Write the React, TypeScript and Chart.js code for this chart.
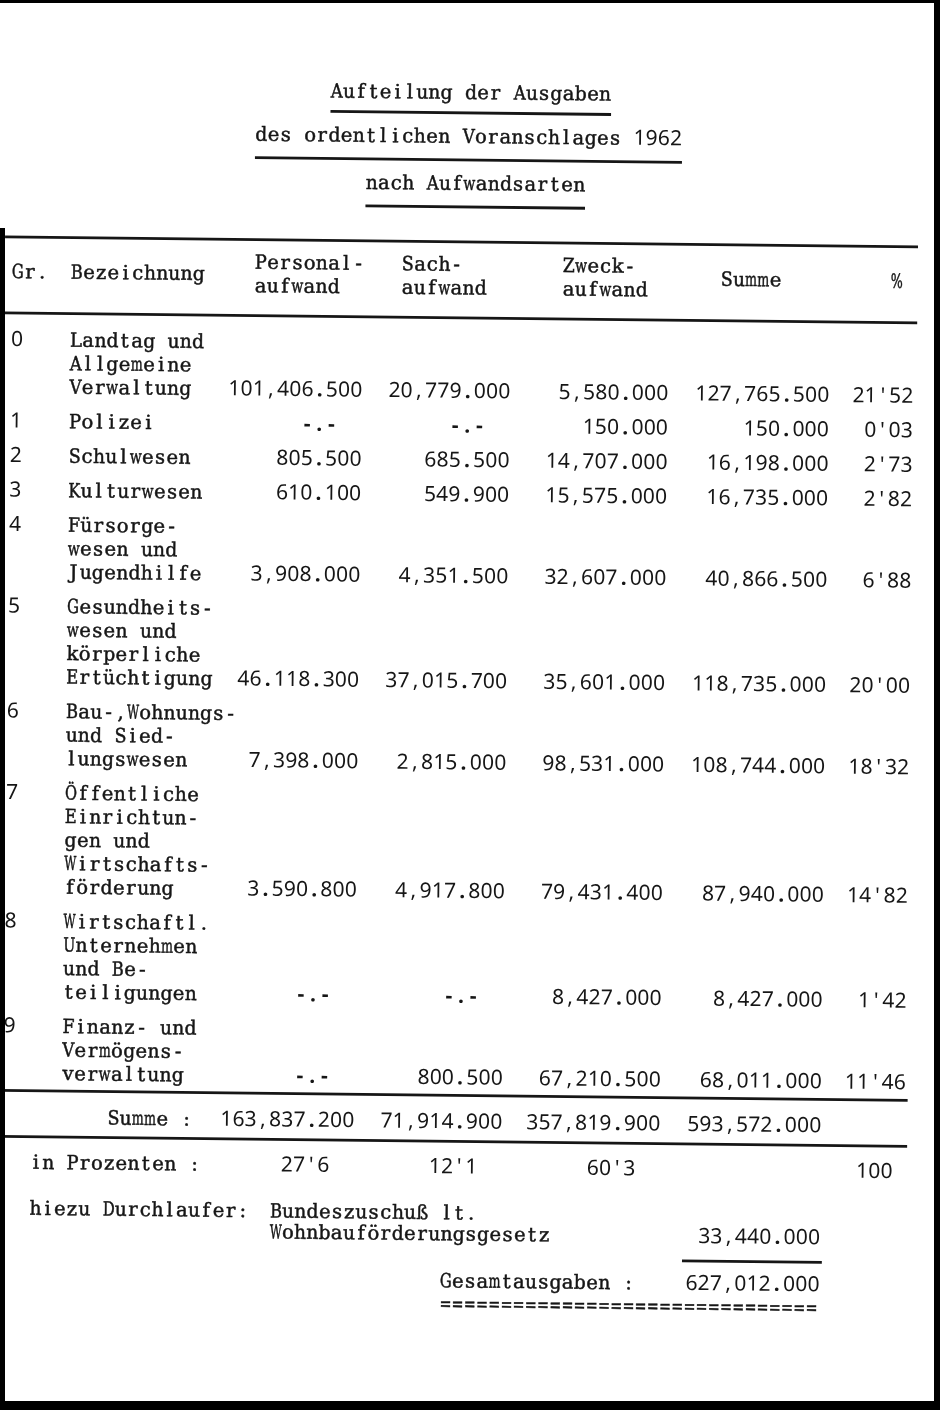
import React, { useEffect, useRef } from "react";
import { Chart, registerables } from "chart.js";

Chart.register(...registerables);

// ---------------- data ----------------
const TITLE_LINES = [
  "Aufteilung der Ausgaben",
  "des ordentlichen Voranschlages 1962",
  "nach Aufwandsarten",
];
const HEADER_GR = "Gr.";
const HEADER_BEZ = "Bezeichnung";
const HEADER_COLS = [
  ["Personal-", "aufwand"],
  ["Sach-", "aufwand"],
  ["Zweck-", "aufwand"],
  ["Summe"],
  ["%"],
];
const GROUPS = ["0", "1", "2", "3", "4", "5", "6", "7", "8", "9"];
const LABELS = [
  ["Landtag und", "Allgemeine", "Verwaltung"],
  ["Polizei"],
  ["Schulwesen"],
  ["Kulturwesen"],
  ["Fürsorge-", "wesen und", "Jugendhilfe"],
  ["Gesundheits-", "wesen und", "körperliche", "Ertüchtigung"],
  ["Bau-,Wohnungs-", "und Sied-", "lungswesen"],
  ["Öffentliche", "Einrichtun-", "gen und", "Wirtschafts-", "förderung"],
  ["Wirtschaftl.", "Unternehmen", "und Be-", "teiligungen"],
  ["Finanz- und", "Vermögens-", "verwaltung"],
];
const PERSONAL = [101406500, null, 805500, 610100, 3908000, 46118300, 7398000, 3590800, null, null];
const SACH = [20779000, null, 685500, 549900, 4351500, 37015700, 2815000, 4917800, null, 800500];
const ZWECK = [5580000, 150000, 14707000, 15575000, 32607000, 35601000, 98531000, 79431400, 8427000, 67210500];
const SUMME = [127765500, 150000, 16198000, 16735000, 40866500, 118735000, 108744000, 87940000, 8427000, 68011000];
const PERCENT = [21.52, 0.03, 2.73, 2.82, 6.88, 20.0, 18.32, 14.82, 1.42, 11.46];
// cells typed with "." instead of "," as the millions separator ("row:col")
const MILLION_DOT_CELLS = ["5:0", "7:0"];
const TOTAL_LABEL = "Summe :";
const TOTALS = [163837200, 71914900, 357819900, 593572000];
const PCT_LABEL = "in Prozenten :";
const TOTAL_PCT = [27.6, 12.1, 60.3, 100];
const EXTRA_LABEL = "hiezu Durchlaufer:";
const EXTRA_TEXT = ["Bundeszuschuß lt.", "Wohnbauförderungsgesetz"];
const EXTRA_VALUE = 33440000;
const GRAND_LABEL = "Gesamtausgaben :";
const GRAND_VALUE = 627012000;

// ---------------- layout (paper coordinates) ----------------
const W = 940;
const H = 1410;
const PITCH = 12.2;
const TILT = 0.011;
const PIVOT = [470, 700];
const LETTER_FONT = '19.5px "DejaVu Serif"';
const DIGIT_FONT = '21px "Noto Sans"';
const DOT_FONT = 'bold 21px "Noto Sans"';
const INK = "#161616";

const fmtAmount = (v: number | null, dotMillions = false) => {
  if (v == null) return "-.-";
  const s = String(v);
  const parts: string[] = [];
  for (let i = s.length; i > 0; i -= 3) parts.unshift(s.slice(Math.max(0, i - 3), i));
  let out = parts[parts.length - 1];
  for (let k = parts.length - 2; k >= 0; k--) {
    const fromRight = parts.length - 1 - k; // 1 => thousands, 2 => millions
    const sep = fromRight === 1 ? "." : dotMillions ? "." : ",";
    out = parts[k] + sep + out;
  }
  return out;
};
const fmtPct = (v: number, d: number) => (v === 100 ? "100" : v.toFixed(d).replace(".", "'"));

export default function App() {
  const ref = useRef<HTMLCanvasElement>(null);

  useEffect(() => {
    const canvas = ref.current;
    if (!canvas) return;

    const X_GR = 7;
    const X_LABEL = 66;
    const COL_RIGHT = [359, 507, 665, 826, 910];
    const HEAD_LEFT = [250, 397, 558, 716, 886];
    const Y_TITLE = [93, 137, 184];
    const Y_TITLE_RULE = [113, 160, 207];
    const TITLE_LEFT = [324, 249, 360];
    const Y_RULE1 = 242;
    const Y_HEAD = [265, 288.5];
    const Y_HEAD_MID = 277;
    const Y_RULE2 = 318;
    const Y_ROW0 = 345;
    const LINE = 23.5;
    const GAP = 34.5;

    // compute row positions from label line counts
    const rowLastY: number[] = [];
    let y = Y_ROW0;
    LABELS.forEach((lines, i) => {
      const last = y + (lines.length - 1) * LINE;
      rowLastY[i] = last;
      y = last + GAP;
    });
    const lastY = rowLastY[rowLastY.length - 1];
    const Y_RULE3 = lastY + 17;
    const Y_SUM = Y_RULE3 + 27;
    const Y_RULE4 = Y_RULE3 + 46;
    const Y_PCT = Y_RULE4 + 26;
    const Y_EXTRA = Y_PCT + 46;
    const Y_EXTRA2 = Y_EXTRA + 21;
    const Y_SHORT = Y_EXTRA2 + 24;
    const Y_GRAND = Y_EXTRA2 + 47;
    const Y_EQ = Y_GRAND + 23;

    const series = [PERSONAL, SACH, ZWECK, SUMME];
    const anchors: { x: number; y: number }[] = [];
    series.forEach((s, c) => s.forEach((_, r) => anchors.push({ x: COL_RIGHT[c], y: rowLastY[r] })));

    const plugin = {
      id: "typedTable",
      beforeDraw(chart: any) {
        const ctx = chart.ctx;
        ctx.save();
        ctx.fillStyle = "#fff";
        ctx.fillRect(0, 0, chart.width, chart.height);
        ctx.restore();
      },
      afterDraw(chart: any) {
        const ctx: CanvasRenderingContext2D = chart.ctx;
        const xs = chart.scales.x;
        const ys = chart.scales.y;
        const X = (v: number) => xs.getPixelForValue(v);
        const Y = (v: number) => ys.getPixelForValue(v);
        const cell = X(PITCH) - X(0);

        const typeText = (text: string, left: number, yMid: number, numeric: boolean) => {
          ctx.textAlign = "center";
          ctx.textBaseline = "middle";
          const chars = Array.from(text);
          chars.forEach((ch, i) => {
            if (ch === " ") return;
            const isDigit = /[0-9]/.test(ch);
            let font = LETTER_FONT;
            if (numeric || isDigit) font = ch === "." || ch === "-" ? DOT_FONT : DIGIT_FONT;
            ctx.font = font;
            const cx = X(left) + (i + 0.5) * cell;
            const cy = Y(yMid);
            if (font === LETTER_FONT) {
              ctx.lineWidth = 0.5;
              ctx.fillText(ch, cx, cy + 1, cell * 0.98);
              ctx.strokeText(ch, cx, cy + 1, cell * 0.98);
            } else {
              ctx.fillText(ch, cx, cy);
            }
          });
        };
        const typeRight = (text: string, right: number, yMid: number, numeric: boolean) => {
          const left = right - Array.from(text).length * PITCH;
          typeText(text, left, yMid, numeric);
        };
        const rule = (x1: number, x2: number, yy: number, w: number) => {
          ctx.beginPath();
          ctx.lineWidth = w;
          ctx.moveTo(X(x1), Y(yy));
          ctx.lineTo(X(x2), Y(yy));
          ctx.stroke();
        };

        ctx.save();
        const px = X(PIVOT[0]);
        const py = Y(PIVOT[1]);
        ctx.translate(px, py);
        ctx.rotate(TILT);
        ctx.translate(-px, -py);
        ctx.fillStyle = INK;
        ctx.strokeStyle = INK;

        // titles
        TITLE_LINES.forEach((t, i) => {
          typeText(t, TITLE_LEFT[i], Y_TITLE[i], false);
          rule(TITLE_LEFT[i], TITLE_LEFT[i] + t.length * PITCH, Y_TITLE_RULE[i], 2.8);
        });

        // table rules
        rule(0, 913, Y_RULE1, 2.8);
        rule(0, 913, Y_RULE2, 2.6);
        rule(0, 912, Y_RULE3, 2.6);
        rule(0, 912, Y_RULE4, 2.6);

        // header
        typeText(HEADER_GR, X_GR, Y_HEAD_MID, false);
        typeText(HEADER_BEZ, X_LABEL, Y_HEAD_MID, false);
        HEADER_COLS.forEach((lines, c) => {
          if (lines.length === 2) {
            lines.forEach((l, k) => typeText(l, HEAD_LEFT[c], Y_HEAD[k], false));
          } else {
            typeText(lines[0], HEAD_LEFT[c], Y_HEAD_MID, false);
          }
        });

        // body rows
        LABELS.forEach((lines, r) => {
          const first = rowLastY[r] - (lines.length - 1) * LINE;
          typeText(GROUPS[r], X_GR, first, true);
          lines.forEach((l, k) => typeText(l, X_LABEL, first + k * LINE, false));
          series.forEach((s, c) => {
            const v = s[r];
            const txt = fmtAmount(v, MILLION_DOT_CELLS.includes(`${r}:${c}`));
            const right = v == null ? COL_RIGHT[c] - 2 * PITCH : COL_RIGHT[c];
            typeRight(txt, right, rowLastY[r], true);
          });
          typeRight(fmtPct(PERCENT[r], 2), COL_RIGHT[4], rowLastY[r], true);
        });

        // totals
        typeRight(TOTAL_LABEL, COL_RIGHT[0] - 13.25 * PITCH, Y_SUM, false);
        TOTALS.forEach((v, c) => typeRight(fmtAmount(v), COL_RIGHT[c], Y_SUM, true));

        typeText(PCT_LABEL, 35, Y_PCT, false);
        TOTAL_PCT.forEach((v, i) => {
          const c = i < 3 ? i : 4;
          const off = i < 3 ? 2 : 1;
          typeRight(fmtPct(v, 1), COL_RIGHT[c] - off * PITCH, Y_PCT, true);
        });

        typeText(EXTRA_LABEL, 35, Y_EXTRA, false);
        typeText(EXTRA_TEXT[0], 275.5, Y_EXTRA, false);
        typeText(EXTRA_TEXT[1], 275.5, Y_EXTRA2, false);
        typeRight(fmtAmount(EXTRA_VALUE), COL_RIGHT[3], Y_EXTRA2, true);
        rule(COL_RIGHT[3] - 11.3 * PITCH, COL_RIGHT[3] + 2, Y_SHORT, 2.6);

        typeText(GRAND_LABEL, 446, Y_GRAND, false);
        typeRight(fmtAmount(GRAND_VALUE), COL_RIGHT[3], Y_GRAND, true);
        typeText("=".repeat(31), 446, Y_EQ, false);

        ctx.restore();

        // scanner frame
        ctx.save();
        ctx.fillStyle = "#000";
        ctx.fillRect(0, 0, W, 3);
        ctx.fillRect(W - 6, 0, 6, H);
        ctx.fillRect(0, H - 9, W, 9);
        ctx.fillRect(0, 228, 5, H - 228);
        ctx.restore();
      },
    };

    const chart = new Chart(canvas, {
      type: "scatter",
      data: {
        datasets: [
          { data: anchors, pointRadius: 0, pointHoverRadius: 0, showLine: false },
        ],
      },
      options: {
        animation: false,
        responsive: false,
        events: [],
        layout: { padding: 0 },
        plugins: { legend: { display: false }, tooltip: { enabled: false } },
        scales: {
          x: { type: "linear", min: 0, max: W, display: false },
          y: { type: "linear", min: 0, max: H, reverse: true, display: false },
        },
      },
      plugins: [plugin],
    });
    return () => chart.destroy();
  }, []);

  return (
    <div style={{ position: "fixed", left: 0, top: 0, width: W, height: H, background: "#fff" }}>
      <canvas ref={ref} width={W} height={H} style={{ display: "block", width: W, height: H }} />
    </div>
  );
}
